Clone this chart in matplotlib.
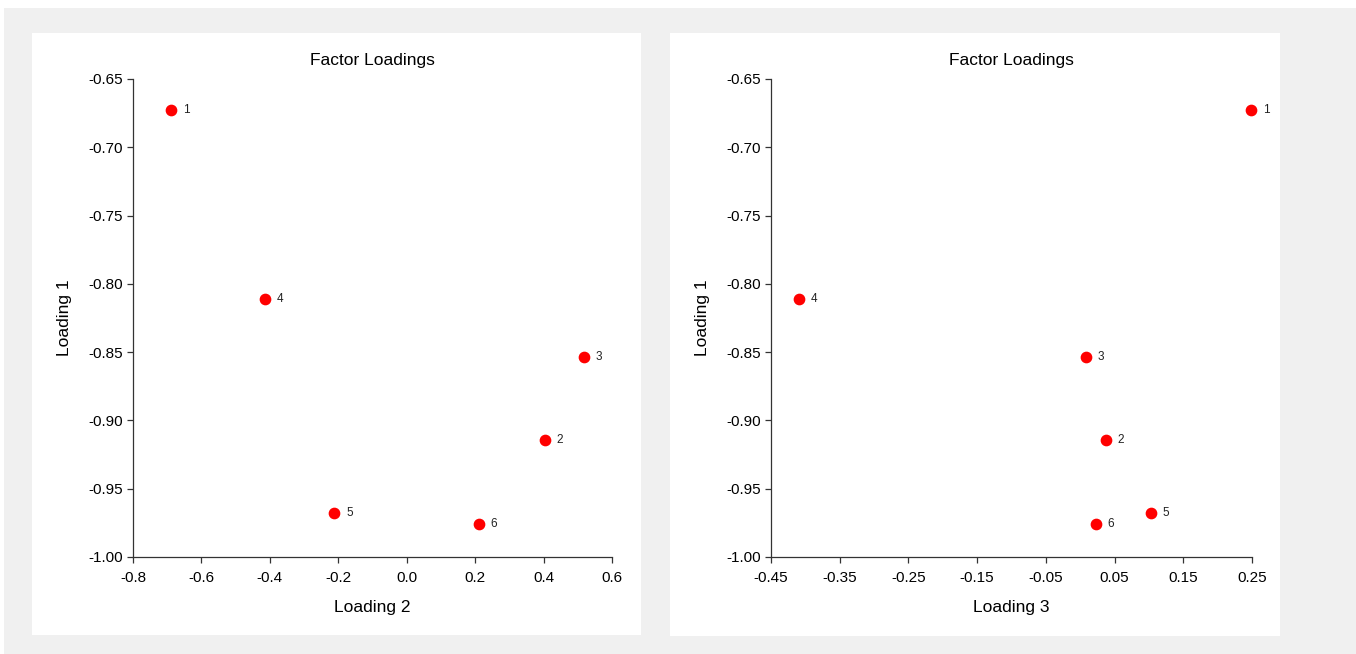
import matplotlib.pyplot as plt
from matplotlib.patches import Rectangle

plt.rcParams['font.family'] = ['Liberation Sans', 'DejaVu Sans']

labels = ['1', '2', '3', '4', '5', '6']
loading1 = [-0.673, -0.914, -0.8535, -0.811, -0.968, -0.9755]
loading2 = [-0.689, 0.404, 0.518, -0.414, -0.212, 0.211]
loading3 = [0.249, 0.037, 0.008, -0.409, 0.103, 0.023]

x2_ticks = [-0.8, -0.6, -0.4, -0.2, 0.0, 0.2, 0.4, 0.6]
x3_ticks = [-0.45, -0.35, -0.25, -0.15, -0.05, 0.05, 0.15, 0.25]
y_ticks = [-1.00, -0.95, -0.90, -0.85, -0.80, -0.75, -0.70, -0.65]

W, H = 1356, 654
fig = plt.figure(figsize=(W / 100, H / 100), dpi=100, facecolor='white')


def px_rect(x0, y0, x1, y1, color):
    # pixel box (top-left origin) -> figure fraction rectangle
    fig.patches.append(Rectangle((x0 / W, 1 - y1 / H), (x1 - x0) / W, (y1 - y0) / H,
                                 transform=fig.transFigure, facecolor=color,
                                 edgecolor='none', zorder=-10))


px_rect(4, 8, W, H, '#f0f0f0')
px_rect(32, 33, 641, 635, 'white')
px_rect(670, 33, 1280, 636, 'white')


def make_axes(x0, x1, xvals, xticks, xlabel, xfmt):
    ax = fig.add_axes([x0 / W, 1 - 557 / H, (x1 - x0) / W, (557 - 79) / H])
    ax.patch.set_alpha(0)
    ax.scatter(xvals, loading1, s=55, color='red', zorder=3, clip_on=False)
    for x, y, lab in zip(xvals, loading1, labels):
        ax.annotate(lab, (x, y), xytext=(8.5, 0), textcoords='offset points',
                    ha='left', va='center', fontsize=8.5, color='#222222')
    ax.set_xlim(xticks[0], xticks[-1])
    ax.set_ylim(-1.0, -0.65)
    ax.set_xticks(xticks)
    ax.set_xticklabels([xfmt.format(t) for t in xticks])
    ax.set_yticks(y_ticks)
    ax.set_yticklabels(['{:.2f}'.format(t) for t in y_ticks])
    for side in ['top', 'right']:
        ax.spines[side].set_visible(False)
    for side in ['left', 'bottom']:
        ax.spines[side].set_linewidth(0.9)
        ax.spines[side].set_color('#333333')
    ax.tick_params(direction='out', length=4, width=0.9, color='#333333',
                   labelsize=11, labelcolor='black')
    ax.tick_params(axis='x', pad=6)
    ax.tick_params(axis='y', pad=3)
    ax.set_title('Factor Loadings', fontsize=12.5, pad=10)
    ax.set_xlabel(xlabel, fontsize=12.5, labelpad=11)
    ax.set_ylabel('Loading 1', fontsize=12.5, labelpad=12)
    return ax


make_axes(133, 612, loading2, x2_ticks, 'Loading 2', '{:.1f}')
make_axes(771, 1252, loading3, x3_ticks, 'Loading 3', '{:.2f}')

fig.savefig('out.png', dpi=100)
